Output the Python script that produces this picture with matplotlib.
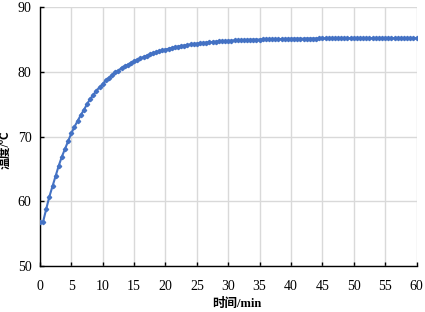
import matplotlib.pyplot as plt

# time in minutes, sampled every half minute
time_min = [i * 0.5 for i in range(121)]

# temperature readings (deg C)
temp_c = [
    56.8, 56.8, 58.8, 60.7, 62.3, 63.9, 65.5, 66.9, 68.1, 69.3,
    70.5, 71.5, 72.4, 73.3, 74.1, 75.0, 75.8, 76.4, 77.1, 77.6,
    78.1, 78.7, 79.1, 79.5, 79.9, 80.2, 80.6, 80.9, 81.1, 81.4,
    81.6, 81.85, 82.08, 82.30, 82.50, 82.69, 82.87, 83.03, 83.18, 83.32,
    83.45, 83.58, 83.69, 83.80, 83.90, 83.99, 84.07, 84.15, 84.23, 84.30,
    84.36, 84.42, 84.47, 84.52, 84.57, 84.62, 84.66, 84.70, 84.73, 84.76,
    84.79, 84.82, 84.85, 84.87, 84.90, 84.92, 84.94, 84.96, 84.97, 84.99,
    85.00, 85.02, 85.03, 85.04, 85.05, 85.06, 85.07, 85.08, 85.09, 85.10,
    85.11, 85.12, 85.12, 85.13, 85.13, 85.14, 85.14, 85.15, 85.15, 85.16,
    85.16, 85.16, 85.17, 85.17, 85.17, 85.18, 85.18, 85.18, 85.18, 85.18,
    85.19, 85.19, 85.19, 85.19, 85.19, 85.19, 85.19, 85.2, 85.2, 85.2,
    85.2, 85.2, 85.2, 85.2, 85.2, 85.2, 85.2, 85.2, 85.2, 85.2,
    85.2,
]

x_ticks = list(range(0, 61, 5))
y_ticks = [50, 60, 70, 80, 90]

num_font = 'Liberation Serif'
label_font = ['Liberation Serif', 'Noto Sans CJK SC']

fig = plt.figure(figsize=(4.25, 3.12), dpi=100)
ax = fig.add_axes([0.094, 0.148, 0.886, 0.829])

ax.plot(time_min, temp_c, color='#4472c4', lw=1.5, marker='D', ms=2.2, zorder=3)

ax.set_xlim(0, 60)
ax.set_ylim(50, 90)
ax.set_xticks(x_ticks)
ax.set_yticks(y_ticks)
ax.grid(True, color='#d9d9d9', lw=1)
ax.set_axisbelow(True)

for s in ['top', 'right']:
    ax.spines[s].set_visible(False)
for s in ['left', 'bottom']:
    ax.spines[s].set_color('black')
    ax.spines[s].set_linewidth(1)

ax.tick_params(direction='in', length=3, width=1)
ax.tick_params(axis='y', pad=6)
ax.tick_params(axis='x', pad=10)
for lab in ax.get_xticklabels() + ax.get_yticklabels():
    lab.set_fontfamily(num_font)
    lab.set_fontsize(10)

ax.set_xlabel('时间/min', family=label_font, fontsize=9, fontweight='bold')
ax.set_ylabel('温度/℃', family=label_font, fontsize=8.5, fontweight='bold')
ax.xaxis.set_label_coords(0.523, -0.125)
ax.yaxis.set_label_coords(-0.075, 0.448)

fig.savefig('out.png', dpi=100)
